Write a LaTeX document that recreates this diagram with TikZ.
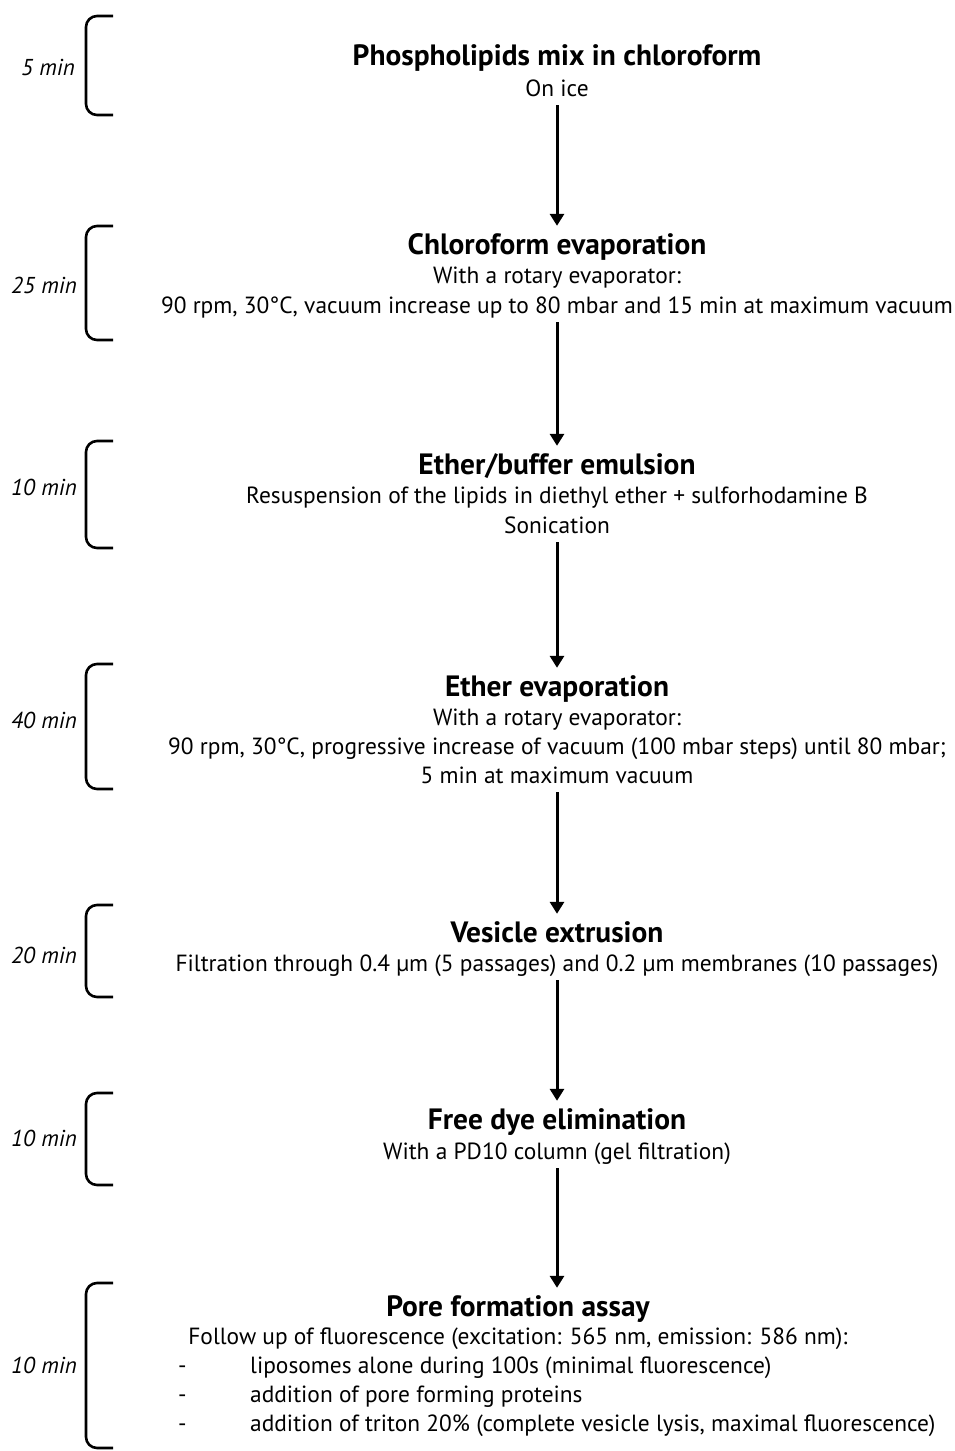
\documentclass[tikz,border=0pt]{standalone}
\usepackage{fontspec}
\setmainfont{PT Sans}
\usetikzlibrary{arrows.meta}
\begin{document}
\begin{tikzpicture}[x=1pt,y=-1pt,
 steptitle/.style={font=\fontsize{29.4}{34}\selectfont\bfseries, anchor=base, inner sep=0pt, text height=28pt, text depth=0pt},
 desc/.style={font=\fontsize{23.4}{28}\selectfont, anchor=base, inner sep=0pt, text height=16pt, text depth=9pt},
 bullet/.style={font=\fontsize{23.4}{28}\selectfont, anchor=base west, inner sep=0pt},
 tlabel/.style={font=\fontsize{23}{27}\selectfont\itshape, anchor=base east, inner sep=0pt},
 flow/.style={line width=3pt, -{Triangle[length=12pt,width=14pt]}},
 bracketline/.style={line width=2.6pt, rounded corners=11pt}
]
\useasboundingbox (0,0) rectangle (955,1451);

% block 1
\node[steptitle] (t1) at (557,65) {Phospholipids mix in chloroform};
\node[desc] (d1) at (557,96) {On ice};
% block 2
\node[steptitle] (t2) at (557,254) {Chloroform evaporation};
\node[desc] (d2a) at (557,283) {With a rotary evaporator:};
\node[desc] (d2b) at (557,313) {90 rpm, 30°C, vacuum increase up to 80 mbar and 15 min at maximum vacuum};
% block 3
\node[steptitle] (t3) at (557,474) {Ether/buffer emulsion};
\node[desc] (d3a) at (557,503) {Resuspension of the lipids in diethyl ether + sulforhodamine B};
\node[desc] (d3b) at (557,533) {Sonication};
% block 4
\node[steptitle] (t4) at (557,696) {Ether evaporation};
\node[desc] (d4a) at (557,725) {With a rotary evaporator:};
\node[desc] (d4b) at (557,754) {90 rpm, 30°C, progressive increase of vacuum (100 mbar steps) until 80 mbar;};
\node[desc] (d4c) at (557,783) {5 min at maximum vacuum};
% block 5
\node[steptitle] (t5) at (557,942) {Vesicle extrusion};
\node[desc] (d5) at (557,971) {Filtration through 0.4 µm (5 passages) and 0.2 µm membranes (10 passages)};
% block 6
\node[steptitle] (t6) at (557,1129) {Free dye elimination};
\node[desc] (d6) at (557,1159) {With a PD10 column (gel filtration)};
% block 7
\node[steptitle] (t7) at (518,1316) {Pore formation assay};
\node[desc] (d7) at (518,1344) {Follow up of fluorescence (excitation: 565 nm, emission: 586 nm):};
\node[bullet] (m1) at (178,1373) {-};
\node[bullet] (b1) at (250,1373) {liposomes alone during 100s (minimal fluorescence)};
\node[bullet] (m2) at (178,1402) {-};
\node[bullet] (b2) at (250,1402) {addition of pore forming proteins};
\node[bullet] (m3) at (178,1431) {-};
\node[bullet] (b3) at (250,1431) {addition of triton 20\% (complete vesicle lysis, maximal fluorescence)};

% arrows
\draw[flow] (d1.south) -- (t2.north);
\draw[flow] (d2b.south) -- (t3.north);
\draw[flow] (d3b.south) -- (t4.north);
\draw[flow] (d4c.south) -- (t5.north);
\draw[flow] (d5.south) -- (t6.north);
\draw[flow] (d6.south) -- (t7.north -| d6.south);

% time labels
\node[tlabel] (l1) at (75,75) {5 min};
\node[tlabel] (l2) at (77,293) {25 min};
\node[tlabel] (l3) at (77,495) {10 min};
\node[tlabel] (l4) at (77,728) {40 min};
\node[tlabel] (l5) at (77,963) {20 min};
\node[tlabel] (l6) at (77,1146) {10 min};
\node[tlabel] (l7) at (77,1373) {10 min};

% brackets
\draw[bracketline] (113,16) -- (86,16) -- (86,115) -- (113,115);
\draw[bracketline] (113,226) -- (86,226) -- (86,340) -- (113,340);
\draw[bracketline] (113,441) -- (86,441) -- (86,548) -- (113,548);
\draw[bracketline] (113,664) -- (86,664) -- (86,789) -- (113,789);
\draw[bracketline] (113,905) -- (86,905) -- (86,997) -- (113,997);
\draw[bracketline] (113,1093) -- (86,1093) -- (86,1185) -- (113,1185);
\draw[bracketline] (113,1283) -- (86,1283) -- (86,1448) -- (113,1448);
\end{tikzpicture}
\end{document}
